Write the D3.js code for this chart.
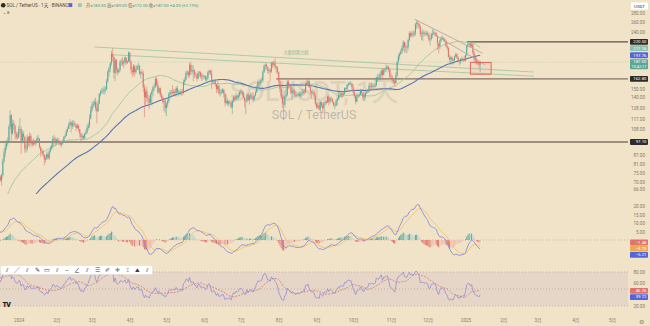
<!DOCTYPE html>
<html>
<head>
<meta charset="utf-8">
<script src="https://cdn.jsdelivr.net/npm/d3@7"></script>
<style>
  html, body { margin: 0; padding: 0; background: #f0e3c8; overflow: hidden; }
  svg { display: block; }
  text { font-family: Roboto, "Noto Sans", "Noto Sans CJK SC", sans-serif; }
</style>
</head>
<body>
<svg id="chart" width="650" height="326"></svg>
<script>
// ---- SOL / USDT, daily candles (Binance) ----

// Closes before the visible range, only used to warm up MA / MACD / RSI (2023-09-01 .. 2023-12-15)
const historyStart = "2023-09-01";
const historyCloses = [
  19.7, 19.8, 19.7, 19.4, 19.5, 19.3, 19.4, 18.9, 18.9, 17.9, 17.5, 18.3, 18.5, 19.4, 19.3, 19.1, 18.9, 18.9, 19.6, 19.7, 19.1, 19.4, 19.4, 19.2, 19.4, 19.2, 19.4, 20.9, 21.4, 21.4,
  23.6, 23.1, 23.0, 22.5, 22.2, 23.0, 23.0, 22.4, 22.4, 21.8, 21.3, 21.2, 21.7, 21.7, 22.1, 24.6, 24.9, 24.5, 26.6, 29.3, 30.0, 31.2, 31.5, 32.6, 32.4, 31.3, 32.0, 33.5, 34.2, 38.0, 38.2,
  40.0, 43.0, 40.5, 41.5, 42.5, 44.5, 43.4, 45.5, 43.0, 55.0, 57.8, 55.5, 54.5, 55.6, 61.2, 55.5, 57.5, 58.0, 60.0, 58.7, 56.0, 60.0, 59.0, 59.5, 58.5, 56.5, 56.0, 58.0, 58.5, 59.5,
  61.0, 63.0, 62.5, 61.5, 61.8, 65.0, 68.5, 72.5, 74.0, 73.5, 70.5, 70.0, 73.3, 72.5, 71.5
];

// Visible candles, one per day from 2023-12-16 (open = previous close)
const seriesStart = "2023-12-16";
const closes = [
  73, 71, 74, 83, 89, 93, 96, 98, 110, 121, 104, 113, 111, 104, 101, 101,
  108, 108, 98, 104, 101, 92, 92, 101, 97, 102, 97, 95, 98, 96, 97, 100, 100, 93, 90, 90, 87, 84, 85, 88, 85, 90, 92, 94, 100, 99, 96,
  99, 98, 97, 95, 96, 97, 101, 102, 106, 108, 112, 114, 111, 113, 113, 112, 109, 111, 108, 104, 101, 102, 100, 104, 105, 109, 111, 118, 126,
  131, 133, 135, 128, 125, 133, 144, 146, 147, 148, 149, 150, 160, 173, 178, 185, 200, 195, 171, 190, 176, 172, 175, 187, 188, 185, 187, 194, 186, 188, 202,
  188, 175, 172, 181, 172, 176, 181, 181, 170, 172, 171, 152, 140, 147, 139, 138, 134, 144, 147, 152, 153, 163, 155, 146, 151, 143, 140, 135, 136, 128,
  132, 136, 144, 146, 146, 145, 147, 145, 151, 146, 146, 146, 147, 145, 159, 162, 171, 172, 168, 183, 173, 175, 175, 169, 168, 163, 171, 172, 166, 167, 166,
  166, 162, 164, 172, 174, 171, 159, 159, 161, 156, 150, 154, 145, 146, 146, 149, 144, 134, 136, 133, 135, 134, 129, 136, 140, 138, 142, 140, 142, 146,
  147, 145, 140, 136, 136, 143, 137, 141, 142, 141, 138, 142, 146, 153, 159, 158, 160, 161, 172, 181, 183, 180, 174, 175, 173, 186, 183, 185, 180, 178, 172,
  160, 150, 141, 133, 132, 141, 143, 159, 154, 153, 145, 148, 147, 143, 142, 143, 144, 142, 144, 145, 147, 146, 157, 156, 160, 152, 147, 145, 146, 142, 133,
  129, 131, 127, 135, 131, 128, 134, 135, 134, 141, 135, 139, 138, 135, 131, 131, 136, 138, 142, 141, 145, 143, 144, 151, 150, 155, 157, 156, 157, 152,
  146, 142, 135, 141, 142, 143, 148, 145, 140, 141, 145, 146, 147, 154, 153, 154, 154, 153, 155, 165, 164, 164, 169, 174, 168, 176, 176, 179, 180, 176, 166,
  165, 162, 160, 157, 168, 187, 196, 200, 204, 210, 220, 212, 211, 211, 224, 237, 232, 236, 235, 238, 255, 258, 255, 250, 235, 236, 238, 235, 236, 237,
  234, 225, 226, 235, 236, 238, 237, 232, 218, 213, 223, 228, 228, 226, 222, 213, 210, 195, 191, 194, 190, 190, 196, 199, 194, 189, 188, 192, 190, 192, 189,
  198, 214, 217, 218, 213, 216, 202, 196, 190, 187, 187, 183, 187
];
const highs = [
  75, 74, 75, 85, 92, 96, 99, 101, 112, 126, 122, 117, 116, 112, 106, 105,
  111, 118, 110, 107, 106, 102, 95, 103, 102, 105, 104, 99, 100, 99, 99, 102, 103, 100, 94, 92, 91, 88, 87, 90, 89, 91, 94, 96, 102, 103, 101,
  100, 101, 100, 98, 98, 99, 102, 104, 108, 110, 114, 117, 115, 116, 116, 115, 112, 113, 112, 108, 105, 104, 103, 105, 107, 112, 114, 122, 130,
  135, 136, 138, 140, 135, 137, 145, 149, 151, 152, 154, 153, 163, 175, 180, 187, 205, 210, 196, 193, 192, 179, 177, 190, 192, 195, 191, 196, 195, 190, 204,
  203, 189, 180, 184, 183, 178, 183, 186, 183, 174, 176, 174, 156, 150, 153, 143, 142, 145, 149, 154, 157, 165, 166, 159, 152, 152, 145, 142, 137, 138,
  134, 138, 146, 149, 149, 155, 150, 150, 153, 154, 149, 148, 150, 150, 162, 165, 174, 175, 174, 186, 188, 182, 182, 176, 172, 171, 174, 174, 173, 170, 170,
  168, 168, 167, 174, 176, 175, 176, 162, 162, 162, 156, 160, 155, 150, 150, 151, 150, 146, 143, 139, 137, 137, 136, 138, 142, 142, 145, 143, 145, 148,
  150, 149, 147, 141, 139, 145, 145, 143, 145, 145, 146, 143, 148, 155, 162, 162, 163, 165, 175, 183, 185, 185, 180, 177, 177, 187, 188, 189, 193, 181, 181,
  173, 162, 153, 144, 142, 148, 152, 162, 162, 157, 154, 152, 150, 150, 148, 146, 146, 147, 147, 150, 150, 150, 158, 162, 163, 161, 155, 149, 150, 148, 144,
  135, 134, 135, 136, 135, 134, 135, 137, 137, 142, 143, 140, 141, 139, 135, 133, 138, 140, 146, 146, 148, 147, 147, 152, 152, 156, 159, 159, 160, 157,
  156, 149, 143, 145, 144, 146, 150, 150, 146, 144, 147, 148, 150, 158, 158, 158, 157, 157, 158, 166, 170, 169, 172, 176, 178, 177, 178, 183, 182, 181, 177,
  170, 168, 163, 162, 172, 189, 200, 203, 208, 214, 224, 221, 220, 215, 226, 241, 240, 240, 243, 241, 258, 264, 262, 257, 253, 241, 245, 243, 240, 242,
  240, 238, 229, 238, 245, 243, 240, 239, 233, 218, 225, 231, 232, 229, 227, 224, 217, 212, 199, 197, 196, 193, 197, 202, 201, 196, 191, 193, 196, 193, 197,
  199, 215, 219, 221, 218, 222, 217, 205, 198, 194, 190, 188, 189
];
const lows = [
  71, 70, 68, 73, 82, 86, 91, 94, 97, 108, 98, 103, 107, 99, 99, 99,
  100, 104, 88, 96, 98, 89, 89, 90, 94, 93, 95, 93, 94, 95, 94, 96, 97, 92, 86, 88, 86, 80, 82, 84, 84, 84, 89, 91, 93, 97, 94,
  95, 96, 95, 94, 93, 95, 97, 100, 102, 105, 108, 110, 105, 108, 110, 110, 106, 108, 106, 101, 98, 99, 99, 100, 103, 104, 107, 109, 117,
  124, 128, 130, 125, 113, 124, 133, 141, 144, 144, 143, 145, 148, 158, 166, 172, 182, 188, 163, 160, 170, 167, 170, 173, 181, 181, 178, 183, 183, 184, 187,
  185, 170, 165, 168, 166, 170, 175, 175, 168, 163, 168, 146, 119, 130, 135, 130, 127, 132, 131, 141, 148, 151, 153, 144, 144, 140, 136, 133, 125, 123,
  120, 129, 134, 140, 141, 143, 142, 141, 141, 143, 141, 143, 142, 142, 144, 155, 161, 167, 164, 165, 168, 169, 160, 164, 165, 160, 163, 166, 163, 160, 162,
  163, 160, 159, 162, 169, 168, 150, 156, 156, 153, 145, 147, 143, 141, 143, 145, 140, 130, 132, 131, 130, 132, 128, 122, 134, 135, 136, 138, 138, 140,
  144, 142, 139, 129, 122, 134, 136, 132, 138, 137, 134, 136, 141, 145, 152, 152, 155, 157, 158, 171, 175, 176, 170, 170, 160, 171, 178, 180, 176, 171, 169,
  157, 146, 138, 128, 116, 129, 139, 141, 150, 151, 144, 137, 144, 140, 139, 140, 141, 141, 139, 141, 142, 143, 145, 154, 155, 151, 143, 138, 143, 137, 131,
  127, 128, 126, 125, 129, 123, 127, 131, 132, 134, 131, 133, 135, 133, 130, 127, 130, 131, 138, 139, 141, 139, 141, 143, 147, 148, 153, 155, 154, 149,
  143, 139, 132, 135, 140, 140, 143, 142, 137, 136, 139, 144, 145, 146, 148, 150, 150, 150, 152, 153, 159, 161, 161, 166, 162, 168, 172, 172, 176, 172, 164,
  162, 157, 156, 153, 157, 166, 184, 191, 198, 200, 205, 202, 202, 201, 206, 222, 228, 230, 229, 231, 232, 245, 248, 245, 230, 224, 222, 230, 232, 232,
  230, 221, 214, 223, 228, 233, 233, 230, 207, 201, 208, 220, 224, 222, 219, 211, 206, 194, 184, 182, 185, 183, 187, 194, 192, 188, 182, 184, 189, 187, 188,
  188, 196, 211, 213, 210, 211, 199, 187, 185, 183, 183, 178, 172
];

// Axis labels
const monthTicks = ["2024", "2月", "3月", "4月", "5月", "6月", "7月", "8月", "9月", "10月", "11月", "12月", "2025", "2月", "3月", "4月", "5月"];
const priceTicks = [280, 260, 240, 222, 205, 190, 176, 150, 140, 128, 117, 108, 100, 93, 87, 81, 75, 70, 66];
const macdTicks = [20, 15, 10, 5, 0, -5, -10];
const rsiTicks = [80, 60, 40, 20];

// Drawn levels and objects
const levelPrices = [220.5, 162.8, 97.1];
const levelStarts = ["2025-01-02", "2024-07-30", "2023-12-10"];
const resistLines = [
  [["2024-03-03", 211.6], ["2025-02-26", 172.3]],
  [["2024-03-18", 198.5], ["2025-02-26", 166.5]]
];
const channelLines = [
  [["2024-11-20", 266], ["2025-01-15", 201]],
  [["2024-12-05", 236], ["2025-01-17", 183]]
];
const boxZone = [["2025-01-05", 186.4], ["2025-01-22", 169.3]];

// ---------------------------------------------------------------
const svg = d3.select("#chart");
const parse = d3.utcParse("%Y-%m-%d");
const DAY = 864e5;
const plotRight = 628;
const mainBottom = 194;
const t0 = parse(seriesStart);

const candles = closes.map((c, i) => {
  const o = i === 0 ? historyCloses[historyCloses.length - 1] : closes[i - 1];
  return { date: new Date(+t0 + i * DAY), o, c, h: Math.max(highs[i], o, c), l: Math.min(lows[i], o, c) };
});
const allCloses = historyCloses.concat(closes);
const off = historyCloses.length;

// indicators
function sma(a, len) { return a.map((_, i) => i < len - 1 ? null : d3.mean(a.slice(i - len + 1, i + 1))); }
function ema(a, len) {
  const k = 2 / (len + 1); let prev = null;
  return a.map(v => { if (v == null) return null; prev = prev == null ? v : v * k + prev * (1 - k); return prev; });
}
function rma(a, len) {
  let prev = null;
  return a.map((v, i) => {
    if (i < len) { if (i === len - 1) { prev = d3.mean(a.slice(0, len)); return prev; } return null; }
    prev = (prev * (len - 1) + v) / len; return prev;
  });
}
const ma50 = sma(allCloses, 50);
const ma100 = sma(allCloses, 100);
const ema12 = ema(allCloses, 12), ema26 = ema(allCloses, 26);
const macd = allCloses.map((_, i) => ema12[i] - ema26[i]);
const signal = ema(macd, 9);
const histo = macd.map((m, i) => m - signal[i]);
const gains = allCloses.map((v, i) => i === 0 ? 0 : Math.max(v - allCloses[i - 1], 0));
const losses = allCloses.map((v, i) => i === 0 ? 0 : Math.max(allCloses[i - 1] - v, 0));
const ag = rma(gains, 14), al = rma(losses, 14);
const rsi = ag.map((g, i) => g == null ? null : (al[i] === 0 ? 100 : 100 - 100 / (1 + g / al[i])));
const rsiMa = sma(rsi.map(v => v == null ? 0 : v), 14);

// scales
const x = d3.scaleUtc().domain([parse("2024-01-01"), parse("2025-05-01")]).range([18.7, 612]);
const yP = d3.scaleLog().domain([63.4, 311]).range([mainBottom, 0]);
const yM = d3.scaleLinear().domain([-10, 20]).range([256.8, 206.4]);
const yR = d3.scaleLinear().domain([20, 80]).range([306, 272]);

const C = {
  bg: "#f0e3c8", up: "#5aa79a", down: "#e0736a", upLight: "#b3d6cc", downLight: "#f0bdb5",
  ma50: "#a9c9a3", ma100: "#5677b3", level: "#857168", trend: "#a7c7a6",
  macd: "#8d8bd2", sig: "#f0c46c", rsi: "#978cd6", rsiMa: "#d27a6a", text: "#85796b"
};

svg.append("rect").attr("width", 650).attr("height", 326).attr("fill", C.bg);

const defs = svg.append("defs");
defs.append("clipPath").attr("id", "clipMain").append("rect").attr("x", 0).attr("y", 0).attr("width", plotRight).attr("height", mainBottom);
defs.append("clipPath").attr("id", "clipMacd").append("rect").attr("x", 0).attr("y", 196).attr("width", plotRight).attr("height", 66);
defs.append("clipPath").attr("id", "clipRsi").append("rect").attr("x", 0).attr("y", 264).attr("width", plotRight).attr("height", 47);

// watermark
svg.append("text").attr("x", 314).attr("y", 101).attr("text-anchor", "middle")
  .attr("font-size", 27).attr("fill", "rgba(120,118,125,0.16)").attr("font-weight", 500)
  .text("SOLUSDT, 1天");
svg.append("text").attr("x", 314).attr("y", 119).attr("text-anchor", "middle")
  .attr("font-size", 12.5).attr("fill", "rgba(120,118,125,0.42)")
  .text("SOL / TetherUS");

// ---- main pane ----
const main = svg.append("g").attr("clip-path", "url(#clipMain)");
const pt = d => [x(parse(d[0])), yP(d[1])];

// horizontal levels
main.selectAll("line.level").data(levelPrices).join("line")
  .attr("x1", (d, i) => x(parse(levelStarts[i]))).attr("x2", plotRight)
  .attr("y1", d => yP(d)).attr("y2", d => yP(d))
  .attr("stroke", (d, i) => i === 0 ? "#5e524c" : C.level).attr("stroke-width", 1.3);

// long resistance lines
main.selectAll("line.res").data(resistLines).join("line")
  .attr("x1", d => pt(d[0])[0]).attr("y1", d => pt(d[0])[1])
  .attr("x2", d => pt(d[1])[0]).attr("y2", d => pt(d[1])[1])
  .attr("stroke", C.trend).attr("stroke-width", 0.9);
main.append("text").attr("x", 296).attr("y", 54).attr("text-anchor", "middle")
  .attr("font-size", 4.2).attr("fill", "#8fb58d").text("大级别阻力线");

// moving averages
const visIdx = d3.range(off, allCloses.length);
const lineFrom = arr => d3.line()
  .defined(i => arr[i] != null)
  .x(i => x(candles[i - off].date)).y(i => yP(arr[i]));
main.append("path").attr("d", lineFrom(ma50)(visIdx)).attr("fill", "none").attr("stroke", C.ma50).attr("stroke-width", 1);
main.append("path").attr("d", lineFrom(ma100)(visIdx)).attr("fill", "none").attr("stroke", C.ma100).attr("stroke-width", 1.1);

// candles
const cg = main.append("g");
cg.selectAll("line").data(candles).join("line")
  .attr("x1", d => x(d.date)).attr("x2", d => x(d.date))
  .attr("y1", d => yP(d.h)).attr("y2", d => yP(d.l))
  .attr("stroke", d => d.c >= d.o ? C.up : C.down).attr("stroke-width", 0.55);
cg.selectAll("rect").data(candles).join("rect")
  .attr("x", d => x(d.date) - 0.5).attr("width", 1)
  .attr("y", d => yP(Math.max(d.o, d.c)))
  .attr("height", d => Math.max(0.6, Math.abs(yP(d.o) - yP(d.c))))
  .attr("fill", d => d.c >= d.o ? C.up : C.down);

// descending channel
main.selectAll("line.ch").data(channelLines).join("line")
  .attr("x1", d => pt(d[0])[0]).attr("y1", d => pt(d[0])[1])
  .attr("x2", d => pt(d[1])[0]).attr("y2", d => pt(d[1])[1])
  .attr("stroke", "#b9a59a").attr("stroke-width", 0.9);

// zone box
const b0 = pt(boxZone[0]), b1 = pt(boxZone[1]);
main.append("rect").attr("x", b0[0]).attr("y", b0[1]).attr("width", b1[0] - b0[0]).attr("height", b1[1] - b0[1])
  .attr("fill", "rgba(224,90,80,0.07)").attr("stroke", "#e0675e").attr("stroke-width", 1);

// last price line
const last = candles[candles.length - 1];
main.append("line").attr("x1", 0).attr("x2", plotRight).attr("y1", yP(last.c)).attr("y2", yP(last.c))
  .attr("stroke", C.up).attr("stroke-opacity", 0.35).attr("stroke-dasharray", "1,1.5").attr("stroke-width", 0.7);

// ---- axis badges, stacked so they never overlap ----
const fmt = d3.format(".2f");
function placeBadges(list, scale) {
  const items = list.map(b => ({ ...b, y: scale(b.v), h: b.extra ? 10 : 5.8 }))
    .sort((a, b) => a.y - b.y);
  let prevBottom = -Infinity;
  items.forEach(it => {
    let top = it.y - 2.9;
    if (top < prevBottom + 0.4) top = prevBottom + 0.4;
    it.top = top; prevBottom = top + it.h;
  });
  items.forEach(it => {
    const g = svg.append("g");
    g.append("rect").attr("x", 630).attr("y", it.top).attr("width", 18).attr("height", it.h).attr("rx", 0.8).attr("fill", it.bg);
    g.append("text").attr("x", 646.5).attr("y", it.top + 4.3).attr("text-anchor", "end").attr("font-size", 4.3).attr("fill", "#fff").text(fmt(it.v));
    if (it.extra) g.append("text").attr("x", 646.5).attr("y", it.top + 8.6).attr("text-anchor", "end").attr("font-size", 3.9).attr("fill", "#fff").text(it.extra);
  });
  return items;
}
function axisLabels(scale, ticks, items) {
  const vals = ticks.filter(t => items.every(it => scale(t) < it.top - 2.5 || scale(t) > it.top + it.h + 2.5));
  svg.append("g").attr("transform", "translate(645,0)")
    .call(d3.axisRight(scale).tickValues(vals).tickFormat(fmt).tickSize(0).tickPadding(0))
    .call(g => g.select(".domain").remove())
    .call(g => g.selectAll("text").attr("x", 0).attr("text-anchor", "end")
      .attr("font-size", 4.6).attr("fill", C.text));
}

// price axis
const priceBadges = [
  { v: levelPrices[0], bg: "#2e2b29" },
  { v: ma50[ma50.length - 1], bg: "#8fbda8" },
  { v: ma100[ma100.length - 1], bg: "#5565d8" },
  { v: last.c, bg: C.up, extra: "10:42:17" },
  { v: levelPrices[1], bg: "#2e2b29" },
  { v: levelPrices[2], bg: "#2e2b29" }
];
const pItems = placeBadges(priceBadges, yP);
axisLabels(yP, priceTicks, pItems);

// currency tag
svg.append("rect").attr("x", 631).attr("y", 2.5).attr("width", 17).attr("height", 7).attr("rx", 1).attr("fill", "#fff");
svg.append("text").attr("x", 639.5).attr("y", 7.7).attr("text-anchor", "middle").attr("font-size", 4.4).attr("fill", "#333").text("USDT");

// ---- MACD pane ----
const mg = svg.append("g").attr("clip-path", "url(#clipMacd)");
mg.append("line").attr("x1", 0).attr("x2", plotRight).attr("y1", yM(0)).attr("y2", yM(0))
  .attr("stroke", "#b9ab98").attr("stroke-dasharray", "1,2").attr("stroke-width", 0.7);
mg.selectAll("rect").data(visIdx).join("rect")
  .attr("x", i => x(candles[i - off].date) - 0.45).attr("width", 0.9)
  .attr("y", i => Math.min(yM(0), yM(histo[i])))
  .attr("height", i => Math.abs(yM(histo[i]) - yM(0)))
  .attr("fill", i => {
    const h = histo[i], p = histo[i - 1];
    if (h >= 0) return h >= p ? C.up : C.upLight;
    return h <= p ? C.down : C.downLight;
  });
const mLine = arr => d3.line().x(i => x(candles[i - off].date)).y(i => yM(arr[i]));
mg.append("path").attr("d", mLine(signal)(visIdx)).attr("fill", "none").attr("stroke", C.sig).attr("stroke-width", 0.9);
mg.append("path").attr("d", mLine(macd)(visIdx)).attr("fill", "none").attr("stroke", C.macd).attr("stroke-width", 0.9);

const iL = allCloses.length - 1;
const mItems = placeBadges([
  { v: histo[iL], bg: C.down }, { v: macd[iL], bg: "#5565d8" }, { v: signal[iL], bg: "#e9a94f" }
], yM);
axisLabels(yM, macdTicks, mItems);

// ---- RSI pane ----
const rg = svg.append("g").attr("clip-path", "url(#clipRsi)");
rg.append("rect").attr("x", 0).attr("width", plotRight).attr("y", yR(80)).attr("height", yR(20) - yR(80))
  .attr("fill", "rgba(126,87,194,0.09)");
[80, 50, 20].forEach(v => rg.append("line").attr("x1", 0).attr("x2", plotRight).attr("y1", yR(v)).attr("y2", yR(v))
  .attr("stroke", "#b3a595").attr("stroke-dasharray", "1,2").attr("stroke-width", 0.7));
const rLine = arr => d3.line().x(i => x(candles[i - off].date)).y(i => yR(arr[i]));
rg.append("path").attr("d", rLine(rsiMa)(visIdx)).attr("fill", "none").attr("stroke", C.rsiMa)
  .attr("stroke-width", 0.8).attr("stroke-dasharray", "2,1.2");
rg.append("path").attr("d", rLine(rsi)(visIdx)).attr("fill", "none").attr("stroke", C.rsi).attr("stroke-width", 0.8);
const rItems = placeBadges([{ v: rsiMa[iL], bg: C.down }, { v: rsi[iL], bg: "#5565d8" }], yR);
axisLabels(yR, rsiTicks, rItems);

// ---- time axis ----
const monthDates = d3.utcMonth.range(parse("2024-01-01"), parse("2025-05-02"));
svg.append("g").attr("transform", "translate(0,319)")
  .call(d3.axisBottom(x).tickValues(monthDates).tickFormat((d, i) => monthTicks[i]).tickSize(0).tickPadding(0))
  .call(g => g.select(".domain").remove())
  .call(g => g.selectAll("text").attr("font-size", 4.6).attr("fill", C.text).attr("dy", "0.7em"));
svg.append("text").attr("x", 641).attr("y", 324).attr("text-anchor", "middle").attr("font-size", 6).attr("fill", "#8b8175").text("⚙");

// ---- legend / title ----
svg.append("circle").attr("cx", 3.2).attr("cy", 5.2).attr("r", 2.3).attr("fill", "#2b2b2b");
svg.append("text").attr("x", 6.5).attr("y", 7).attr("font-size", 4.6).attr("fill", "#4e4a45")
  .text("SOL / TetherUS · 1天 · BINANCE");
svg.append("rect").attr("x", 68.5).attr("y", 3.2).attr("width", 3.8).attr("height", 3.8).attr("fill", "#5069e0");
svg.append("rect").attr("x", 78).attr("y", 3.2).attr("width", 3.8).attr("height", 3.8).attr("fill", "#9fcaa4");
const chg = last.c - last.o;
const ohlc = svg.append("text").attr("x", 86).attr("y", 7).attr("font-size", 4.3);
[["开", last.o], ["高", last.h], ["低", last.l], ["收", last.c]].forEach(([k, v]) => {
  ohlc.append("tspan").attr("fill", "#6f6860").text(k + "=");
  ohlc.append("tspan").attr("fill", "#3f9c8c").text(fmt(v) + " ");
});
ohlc.append("tspan").attr("fill", "#3f9c8c").text(`+${fmt(chg)} (+${fmt(chg / last.o * 100)}%)`);
svg.append("text").attr("x", 3).attr("y", 14).attr("font-size", 4.3).attr("fill", "#5a544d").text("⌄ 8");

// ---- drawing toolbar ----
svg.append("rect").attr("x", 0.5).attr("y", 265.5).attr("width", 152).attr("height", 9).attr("rx", 1.5)
  .attr("fill", "#ffffff").attr("stroke", "#e2ddd3").attr("stroke-width", 0.5);
const tools = ["⫽", "╱", "⫽", "✎", "▭", "⫽", "—", "∠", "⫽", "☰", "✐", "✛", "⌶", "⛰", "⫽"];
tools.forEach((t, i) => svg.append("text").attr("x", 7 + i * 10).attr("y", 272.3).attr("text-anchor", "middle")
  .attr("font-size", 5.5).attr("fill", "#3b3b3b").attr("font-family", "DejaVu Sans").text(t));

// logo
svg.append("text").attr("x", 2.5).attr("y", 307).attr("font-size", 7).attr("font-weight", 900)
  .attr("fill", "#1c1c1c").attr("letter-spacing", -0.6).text("TV");
</script>
</body>
</html>
